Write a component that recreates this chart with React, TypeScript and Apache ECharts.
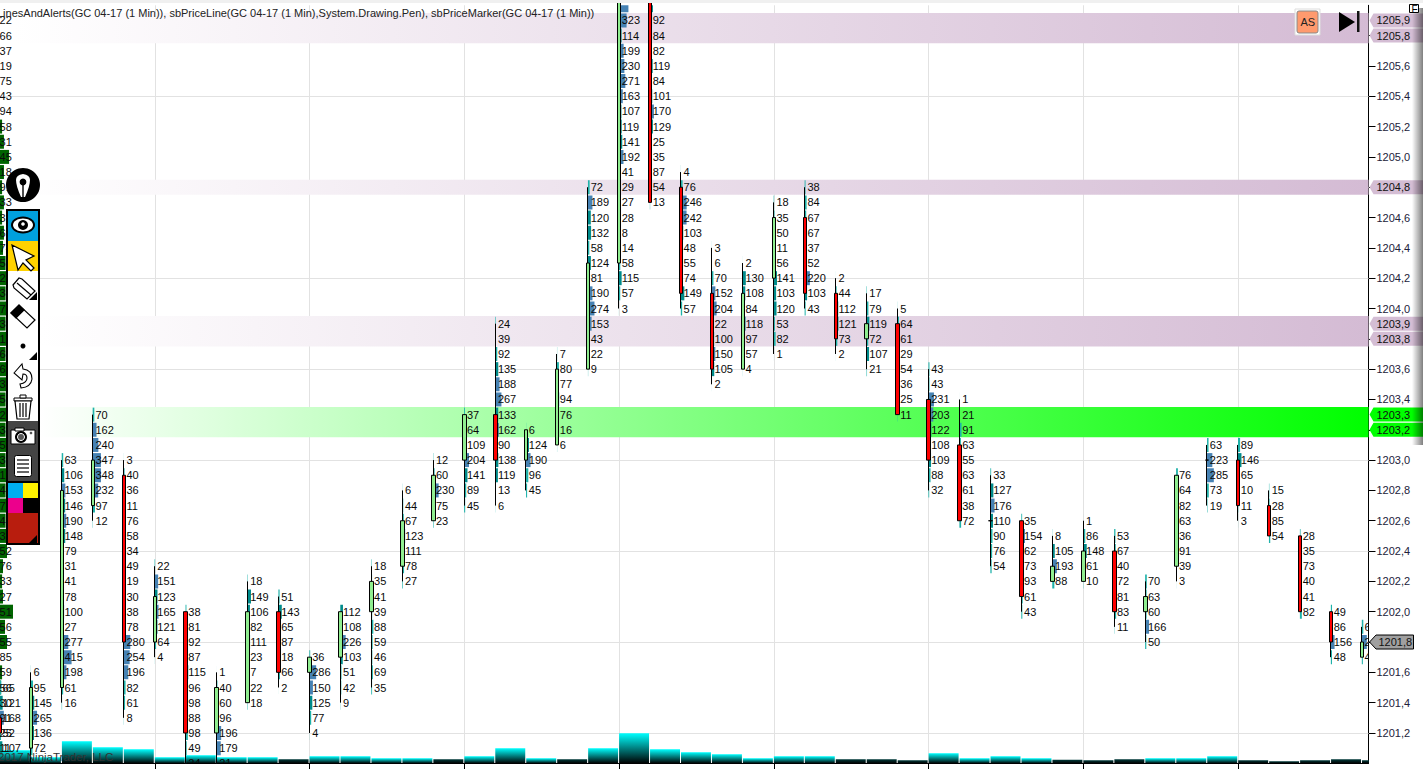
import React, { useEffect, useRef } from "react";
import * as echarts from "echarts";

const FONT = '"Liberation Sans", Arial, sans-serif';
const INK = "#0a0a0a";

// price rows: top price of every bar, then the footprint values downward in 0.1 steps
const barTops = [1201.5,1201.6,1203.0,1203.3,1203.0,1202.3,1202.0,1201.6,1202.2,1202.1,1201.7,1202.0,1202.3,1202.8,1203.0,1203.3,1203.9,1203.2,1203.7,1204.8,1206.0,1206.0,1204.9,1204.4,1204.3,1204.7,1204.8,1204.2,1204.1,1204.0,1203.6,1203.4,1202.9,1202.6,1202.5,1202.6,1202.5,1202.2,1202.9,1203.1,1203.1,1202.8,1202.5,1202.0,1201.9];
const barValues = [
  [65,121,168,52,107],
  [6,95,145,265,136,72],
  [63,106,153,146,190,148,79,31,41,78,100,27,277,415,198,61,16],
  [70,162,240,347,348,232,97,12],
  [3,40,36,11,76,58,34,49,19,30,38,78,280,254,196,82,61,8],
  [22,151,123,165,121,64,4],
  [38,81,92,87,115,96,98,88,98,49,24],
  [1,40,60,96,196,179,21],
  [18,149,106,82,111,23,7,22,18],
  [51,143,65,87,18,66,2],
  [36,286,150,125,77,4],
  [112,108,226,103,51,42,9],
  [18,35,41,39,88,59,46,69,35],
  [6,44,67,123,111,78,27],
  [12,60,230,75,23],
  [37,64,109,204,141,89,45],
  [24,39,92,135,188,267,133,162,90,138,119,13,6],
  [6,124,190,96,45],
  [7,80,77,94,76,16,6],
  [72,189,120,132,58,124,81,190,274,153,43,22,9],
  [400,323,114,199,230,271,163,107,119,141,192,41,29,27,28,8,14,58,115,57,3],
  [130,92,84,82,119,84,101,170,129,25,35,87,54,13],
  [4,76,246,242,103,48,55,74,149,57],
  [3,6,70,152,204,22,100,150,105,2],
  [2,130,108,84,118,97,57,4],
  [18,35,50,11,56,141,103,120,53,82,1],
  [38,84,67,67,37,52,220,103,43],
  [2,44,112,121,73,2],
  [17,79,119,72,107,21],
  [5,64,61,29,54,36,25,11],
  [43,43,231,203,122,108,109,88,32],
  [1,21,91,63,55,63,61,38,72],
  [33,127,176,110,90,76,54],
  [35,154,62,73,93,61,43],
  [8,105,193,88],
  [1,86,148,61,10],
  [53,67,40,72,81,83,11],
  [70,63,60,166,50],
  [76,64,82,63,36,91,39,3],
  [63,223,285,73,19],
  [89,146,65,10,11,3],
  [15,28,85,54],
  [28,35,73,40,41,82],
  [49,86,156,48],
  [63,210,45],
];
const opens  = [1201.3,1201.1,1201.5,1202.7,1202.9,1201.8,1202.0,1201.2,1201.4,1202.0,1201.6,1201.7,1202.0,1202.3,1202.6,1203.0,1203.3,1203.0,1203.1,1203.6,1204.3,1206.2,1204.8,1204.1,1203.6,1204.2,1204.6,1204.1,1203.8,1203.9,1203.4,1203.1,1202.6,1202.6,1202.2,1202.2,1202.4,1202.0,1202.3,1203.0,1203.0,1202.7,1202.5,1202.0,1201.7];
const closes = [1201.2,1201.5,1202.8,1203.0,1201.8,1202.1,1201.2,1201.5,1202.0,1201.6,1201.7,1202.0,1202.2,1202.6,1202.9,1203.3,1203.0,1203.2,1203.6,1204.3,1206.2,1204.7,1204.1,1203.6,1204.1,1204.6,1204.1,1203.8,1203.9,1203.3,1203.0,1202.6,1202.6,1202.1,1202.3,1202.4,1202.0,1202.1,1202.9,1203.0,1202.7,1202.5,1202.0,1201.8,1201.8];
const highs  = [1201.5,1201.6,1203.0,1203.3,1203.0,1202.3,1202.0,1201.6,1202.2,1202.1,1201.7,1202.0,1202.3,1202.8,1203.0,1203.3,1203.9,1203.2,1203.7,1204.8,1206.2,1206.2,1204.9,1204.4,1204.3,1204.7,1204.8,1204.2,1204.1,1204.0,1203.6,1203.4,1202.9,1202.6,1202.5,1202.6,1202.5,1202.2,1202.9,1203.1,1203.1,1202.8,1202.5,1202.0,1201.9];
const lows   = [1201.1,1201.0,1201.4,1202.6,1201.3,1201.7,1201.0,1201.0,1201.4,1201.5,1201.2,1201.4,1201.5,1202.2,1202.6,1202.7,1202.7,1202.8,1203.1,1203.6,1204.0,1204.7,1204.0,1203.5,1203.6,1203.7,1204.0,1203.7,1203.6,1203.3,1202.8,1202.6,1202.3,1202.0,1202.2,1202.2,1201.9,1201.8,1202.2,1202.7,1202.6,1202.5,1202.0,1201.7,1201.7];
const volumes = [1300,600,2200,1600,1400,600,800,600,600,400,700,700,500,500,400,700,1500,500,400,1500,3000,1400,1100,900,500,700,700,400,400,300,1000,500,700,500,350,300,400,500,500,700,300,200,300,400,300];

// the earlier bar cut by the left edge: values and the dark green profile beside them
const leftTop = 1205.9;
const leftValues = [22,66,37,19,75,43,94,58,31,45,18,91,33,32,69,74,52,24,38,74,34,12,68,61,34,58,28,38,58,31,12,44,78,47,32,52,76,33,27,51,56,55,85,59,56,30,91,25,11];
const leftGreen = [0,0,0,0,0,0,0,90,170,390,170,90,170,90,170,130,240,260,240,260,240,260,240,260,260,240,260,240,260,240,260,240,260,240,260,300,130,90,130,560,215,300,0,90,40,0,0,0,0];

const gridPrices = [1201.2,1201.8,1202.4,1203.0,1203.6,1204.2,1204.8,1205.4];
const tickPrices = [1201.2,1201.4,1201.6,1201.8,1202.0,1202.2,1202.4,1202.6,1202.8,1203.0,1203.2,1203.4,1203.6,1203.8,1204.0,1204.2,1204.4,1204.6,1204.8,1205.0,1205.2,1205.4,1205.6,1205.8];
const timeTicks = [5,10,15,20,25,30,35,40];
const bandHighs = [1205.95,1204.85,1203.95,1203.35];
const bandLows = [1205.75,1204.75,1203.75,1203.15];
const bandEnds = ["#d4bbd4","#d4bbd4","#d4bbd4","#00ff00"];
const flagPrices = [1205.9,1205.8,1204.8,1203.9,1203.8,1203.3,1203.2];
const flagColors = ["#d4bdd4","#d4bdd4","#d4bdd4","#d4bdd4","#d4bdd4","#00ff00","#00ff00"];
const lastPrice = 1201.8;
const titleText = "LinesAndAlerts(GC 04-17 (1 Min)), sbPriceLine(GC 04-17 (1 Min),System.Drawing.Pen), sbPriceMarker(GC 04-17 (1 Min))";
const copyright = "2017 NinjaTrader, LLC";

const fmtPrice = (v: number) => v.toFixed(1).replace(".", ",");
const round1 = (v: number) => Math.round(v * 10) / 10;

const rows: number[][] = [];
barValues.forEach((vals, i) => vals.forEach((v, k) => rows.push([i, round1(barTops[i] - k * 0.1), v])));
const leftRows = leftValues.map((v, k) => [-0.1, round1(leftTop - k * 0.1), v]);
const greenRows = leftGreen.map((v, k) => [0, round1(leftTop - k * 0.1), v]);

echarts.graphic.registerShape("nib", echarts.graphic.extendPath("M16 180 Q16 175 23 174 Q30 175 30 180 Q30 186 25 197 L21 197 Q16 186 16 180Z", {}));
echarts.graphic.registerShape("undoArrow", echarts.graphic.extendPath("M14 373 L22 364 L23 369 Q32 370 32 379 Q31 387 21 388 L20 384 Q27 383 27 378 Q27 374 23 374 L22 380 Z", {}));

const Z = 100;
const poly = (points: number[][], fill: string, stroke?: string, lineWidth = 1.2) => ({ type: "polygon", z: Z, shape: { points }, style: { fill, stroke, lineWidth } });
const box = (x: number, y: number, width: number, height: number, fill: string, stroke?: string, lineWidth = 1, r = 0) => ({ type: "rect", z: Z, shape: { x, y, width, height, r }, style: { fill, stroke, lineWidth } });
const dot = (cx: number, cy: number, r: number, fill: string, stroke?: string) => ({ type: "circle", z: Z, shape: { cx, cy, r }, style: { fill, stroke } });
const stroke = (x1: number, y1: number, x2: number, y2: number, color = "#000", lineWidth = 1.2) => ({ type: "line", z: Z, shape: { x1, y1, x2, y2 }, style: { stroke: color, lineWidth } });
const ellipse = (cx: number, cy: number, rx: number, ry: number, fill: string) => ({ type: "ellipse", z: Z, shape: { cx, cy, rx, ry }, style: { fill } });
const label = (x: number, y: number, text: string, size: number, fill: string) => ({ type: "text", z: Z, x, y, style: { text, fill, fontSize: size, fontFamily: FONT, verticalAlign: "middle", align: "left" } });

const overlay: any[] = [
  box(0, 0, 1423, 3, "#f0f0f0"),
  label(-3, 13, titleText, 11, "#222"),
  label(-2, 757, copyright, 11.5, "#333"),
  // pen button
  dot(23, 185, 17, "#000"),
  { type: "nib", z: Z, style: { fill: "#fff" } },
  dot(23, 182, 3.4, "#000"),
  stroke(23, 184, 23, 197, "#000", 1.4),
  // tool bar
  box(6, 209, 34, 336, "#000"),
  box(8, 211, 30, 30, "#00a0dd"),
  box(8, 241, 30, 30, "#ffd200"),
  box(8, 271, 30, 150, "#fff"),
  box(8, 421, 30, 60, "#444"),
  box(8, 483, 15, 15, "#00aeef"),
  box(23, 483, 15, 15, "#fff200"),
  box(8, 498, 15, 15, "#ec008c"),
  box(23, 498, 15, 15, "#000"),
  box(8, 513, 30, 30, "#b81d0e"),
  poly([[37, 543], [29, 543], [37, 535]], "#000"),
  // eye
  ellipse(23, 225, 12, 8.5, "#000"),
  ellipse(23, 225, 10, 6.5, "#fff"),
  dot(23, 225, 5, "#000"),
  dot(23, 224, 1.8, "#fff"),
  // pointer
  poly([[12, 245], [34, 256], [26, 260], [34, 268], [31, 271], [23, 263], [18, 270]], "#fff", "#000"),
  // pencil
  poly([[13, 285], [19, 278], [22, 279], [35, 291], [27, 299], [14, 288]], "#fff", "#000"),
  stroke(17, 283, 31, 295),
  poly([[37, 292], [37, 300], [29, 300]], "#000"),
  // eraser
  poly([[11, 313], [19, 305], [35, 320], [27, 328]], "#fff", "#000"),
  poly([[11, 313], [19, 305], [24, 310], [16, 318]], "#000", "#000"),
  // size dot
  dot(23, 346, 2.5, "#000"),
  poly([[37, 352], [37, 360], [29, 360]], "#000"),
  // undo
  { type: "undoArrow", z: Z, style: { fill: "#fff", stroke: "#000", lineWidth: 1.1 } },
  // bin
  box(14, 398, 18, 3, "#fff", "#000"),
  box(20, 395, 6, 3, "#fff", "#000"),
  poly([[15, 401], [31, 401], [29, 419], [17, 419]], "#fff", "#000"),
  stroke(20, 403, 20, 417),
  stroke(23, 403, 23, 417),
  stroke(26, 403, 26, 417),
  // camera
  box(11, 430, 24, 14, "#fff", "#000"),
  box(15, 428, 9, 3, "#fff", "#000"),
  dot(21, 437, 6, "#000"),
  dot(21, 437, 3.5, "#555", "#fff"),
  dot(31, 433, 1.3, "#555"),
  // document
  box(14.5, 455.5, 17, 21, "#fff", "#000", 1, 2),
  stroke(17, 460, 29, 460),
  stroke(17, 464, 29, 464),
  stroke(17, 468, 29, 468),
  stroke(17, 472, 29, 472),
  // AS button and skip arrow
  box(1295, 9, 25, 26, "#fff", "#ddd"),
  box(1297, 11, 21, 22, "#ff9a6e", "#888", 1, 2),
  label(1300.5, 22, "AS", 11, "#222"),
  poly([[1339, 12], [1355, 22], [1339, 32]], "#000"),
  box(1357, 11, 2.5, 21, "#111"),
  // right edge shade
  { type: "rect", z: Z, shape: { x: 1412, y: 8, width: 11, height: 437 }, style: { fill: new echarts.graphic.LinearGradient(0, 0, 1, 0, [{ offset: 0, color: "rgba(0,0,0,0)" }, { offset: 1, color: "rgba(0,0,0,0.5)" }]) } },
  box(1409.5, 4.5, 9, 8, "#fff", "#000"),
  label(1411.5, 9, "F", 10, "#000"),
];

function buildOption(): any {
  return {
    animation: false,
    grid: { left: -2, width: 1370.5, top: 5.3, height: 758 },
    xAxis: {
      type: "value", min: 0, max: 1370.5 / 31, interval: 5,
      axisLine: { show: true, onZero: false, lineStyle: { color: "#000", width: 1 } },
      axisTick: { show: true, length: 6, lineStyle: { color: "#000" }, customValues: timeTicks },
      axisLabel: { show: false },
      splitLine: { show: true, lineStyle: { color: "#e2e2e2", width: 1 } },
    },
    yAxis: [
      {
        type: "value", position: "right", min: 1201, max: 1206, interval: 0.2,
        axisLine: { show: true, onZero: false, lineStyle: { color: "#000", width: 1 } },
        axisTick: { show: true, length: 7, lineStyle: { color: "#000" }, customValues: tickPrices },
        axisLabel: { color: "#22223a", fontSize: 11, fontFamily: FONT, margin: 8, customValues: tickPrices, formatter: (v: number) => fmtPrice(v) },
        splitLine: { show: false },
      },
      { type: "value", show: false, min: 0, max: 75800, position: "left" },
    ],
    graphic: { elements: overlay },
    series: [
      {
        type: "custom", name: "grid", silent: true, clip: true, data: gridPrices.map((p) => [0, p]),
        renderItem: (_: any, api: any) => {
          const a = api.coord([0, api.value(1)]);
          const b = api.coord([1370.5 / 31, api.value(1)]);
          const y = Math.round(a[1]) + 0.5;
          return { type: "line", shape: { x1: a[0], y1: y, x2: b[0], y2: y }, style: { stroke: "#e2e2e2", lineWidth: 1 } };
        },
      },
      {
        type: "custom", name: "zones", silent: true, clip: true, data: bandHighs.map((h, k) => [k, h, bandLows[k]]),
        renderItem: (_: any, api: any) => {
          const k = api.value(0);
          const a = api.coord([0, api.value(1)]);
          const b = api.coord([1370.5 / 31, api.value(2)]);
          const left = k === 0 || k === 1 ? 14 : 40;
          return {
            type: "rect",
            shape: { x: left, y: a[1], width: b[0] - left, height: b[1] - a[1] },
            style: { fill: new echarts.graphic.LinearGradient(0, 0, 1, 0, [{ offset: 0, color: "#ffffff" }, { offset: 1, color: bandEnds[k] }]) },
          };
        },
      },
      {
        type: "custom", name: "volume", yAxisIndex: 1, silent: true, clip: true, data: volumes.map((v, i) => [i, v]),
        renderItem: (_: any, api: any) => {
          const i = api.value(0);
          const a = api.coord([i, api.value(1)]);
          const b = api.coord([i + 30 / 31, 0]);
          const h = b[1] - a[1];
          return {
            type: "rect", shape: { x: a[0], y: a[1], width: b[0] - a[0], height: h },
            style: { fill: new echarts.graphic.LinearGradient(0, 0, 0, 1, h <= 4 ? [{ offset: 0, color: "#003a3a" }, { offset: 1, color: "#000" }] : [{ offset: 0, color: "#00ffff" }, { offset: 1, color: "#000" }]) },
          };
        },
      },
      {
        type: "custom", name: "leftProfile", silent: true, data: greenRows,
        renderItem: (_: any, api: any) => {
          const c = api.coord([0, api.value(1)]);
          return { type: "rect", shape: { x: 0, y: c[1] - 7, width: api.value(2) / 43, height: 14 }, style: { fill: "#006400" } };
        },
      },
      {
        type: "candlestick", name: "GC 04-17", barWidth: 4, silent: true, clip: true,
        encode: { x: 0, y: [1, 2, 3, 4] },
        itemStyle: { color: "#90ee90", color0: "#ff0000", borderColor: "#000", borderColor0: "#000", borderColorDoji: "#000", borderWidth: 1 },
        data: opens.map((o, i) => [i, o, closes[i], lows[i], highs[i]]),
      },
      {
        type: "custom", name: "profile", silent: true, clip: true, data: rows,
        renderItem: (_: any, api: any) => {
          const v = api.value(2);
          const c = api.coord([api.value(0), api.value(1)]);
          const fill = v < 100 ? "#20b2aa" : v < 150 ? "#008b8b" : "#4682b4";
          return { type: "rect", shape: { x: c[0] - 0.2, y: c[1] - 7, width: v / 42, height: 14 }, style: { fill } };
        },
      },
      {
        type: "custom", name: "values", silent: true, clip: true, data: rows.concat(leftRows),
        renderItem: (_: any, api: any) => {
          const c = api.coord([api.value(0), api.value(1)]);
          if (c[1] < 10) return null;
          return { type: "text", style: { text: String(api.value(2)), x: c[0] + 2.6, y: c[1], fill: INK, fontSize: 11, fontFamily: FONT, align: "left", verticalAlign: "middle" } };
        },
      },
      {
        type: "custom", name: "flags", silent: true, clip: false, data: flagPrices.map((p, k) => [k, p]),
        renderItem: (_: any, api: any) => {
          const k = api.value(0);
          const c = api.coord([1370.5 / 31, api.value(1)]);
          const x = c[0] + 1, y = c[1];
          return {
            type: "group",
            children: [
              { type: "polygon", shape: { points: [[x, y], [x + 4, y - 7], [1423, y - 7], [1423, y + 7], [x + 4, y + 7]] }, style: { fill: flagColors[k] } },
              { type: "text", style: { text: fmtPrice(api.value(1)), x: x + 7, y, fill: "#111", fontSize: 11, fontFamily: FONT, align: "left", verticalAlign: "middle" } },
            ],
          };
        },
      },
      {
        type: "custom", name: "last", silent: true, clip: false, data: [[0, lastPrice]],
        renderItem: (_: any, api: any) => {
          const c = api.coord([1370.5 / 31, api.value(1)]);
          const x = c[0] + 1, y = c[1];
          return {
            type: "group",
            children: [
              { type: "polygon", shape: { points: [[x, y], [x + 6.5, y - 7], [1413.5, y - 7], [1413.5, y + 7], [x + 6.5, y + 7]] }, style: { fill: "#a0a0a0", stroke: "#000", lineWidth: 1 } },
              { type: "text", style: { text: fmtPrice(api.value(1)), x: x + 9, y, fill: "#111", fontSize: 11, fontFamily: FONT, align: "left", verticalAlign: "middle" } },
            ],
          };
        },
      },
    ],
  };
}

export default function App() {
  const ref = useRef<HTMLDivElement>(null);
  useEffect(() => {
    const chart = echarts.init(ref.current as HTMLDivElement, undefined, { renderer: "svg" });
    chart.setOption(buildOption());
    return () => chart.dispose();
  }, []);
  return <div ref={ref} style={{ position: "fixed", left: 0, top: 0, width: 1423, height: 769, background: "#fff" }} />;
}
